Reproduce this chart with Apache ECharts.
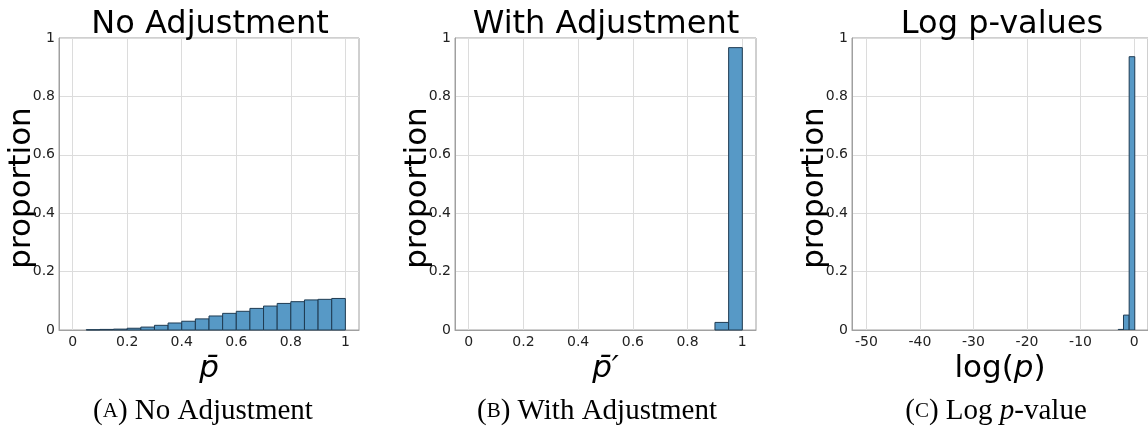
<!DOCTYPE html>
<html>
<head>
<meta charset="utf-8">
<script src="https://cdn.jsdelivr.net/npm/echarts@6/dist/echarts.min.js"></script>
<style>
  html, body { margin: 0; padding: 0; background: #fff; }
  #chart { width: 1148px; height: 429px; }
</style>
</head>
<body>
<div id="chart"></div>
<script>
// panel A: no adjustment, histogram of p-bar (bin left, bin right, proportion)
const noAdjLeft  = [0.05, 0.10, 0.15, 0.20, 0.25, 0.30, 0.35, 0.40, 0.45, 0.50, 0.55, 0.60, 0.65, 0.70, 0.75, 0.80, 0.85, 0.90, 0.95];
const noAdjRight = [0.10, 0.15, 0.20, 0.25, 0.30, 0.35, 0.40, 0.45, 0.50, 0.55, 0.60, 0.65, 0.70, 0.75, 0.80, 0.85, 0.90, 0.95, 1.00];
const noAdjProp  = [0.001, 0.002, 0.003, 0.006, 0.010, 0.016, 0.024, 0.030, 0.038, 0.048, 0.057, 0.064, 0.074, 0.082, 0.091, 0.097, 0.103, 0.105, 0.108];

// panel B: with adjustment
const adjLeft  = [0.90, 0.95];
const adjRight = [0.95, 1.00];
const adjProp  = [0.026, 0.967];

// panel C: log p-values
const logLeft  = [-2.95, -1.98, -0.92];
const logRight = [-1.98, -0.92, 0.13];
const logProp  = [0.002, 0.051, 0.936];

const unitTicks = [0, 0.2, 0.4, 0.6, 0.8, 1];
const logTicks = [-50, -40, -30, -20, -10, 0];

const panelTitles = ['No Adjustment', 'With Adjustment', 'Log p-values'];

const barFill = '#5799c6';
const barEdge = '#1f3b52';
const spine = '#a0a0a0';
const gridLine = '#dcdcdc';
const tickColor = '#222';
const sans = '"DejaVu Sans", sans-serif';
const serif = '"Liberation Serif", "DejaVu Serif", serif';

function zip(l, r, h) {
  return l.map((v, i) => [v, r[i], h[i]]);
}

function renderHist(params, api) {
  const top = api.coord([api.value(0), api.value(2)]);
  const bot = api.coord([api.value(1), 0]);
  return {
    type: 'rect',
    shape: { x: top[0], y: top[1], width: bot[0] - top[0], height: bot[1] - top[1] },
    style: { fill: barFill, stroke: barEdge, lineWidth: 1 }
  };
}

const grids = [
  { left: 59, top: 38, width: 300, height: 292 },
  { left: 455, top: 38, width: 301, height: 292 },
  { left: 852, top: 38, width: 300, height: 292 }
];

function xAxisFor(i, min, max, ticks, name) {
  return {
    type: 'value', gridIndex: i, min: min, max: max,
    name: name, nameLocation: 'middle', nameGap: 12,
    nameTextStyle: {
      color: '#000', fontFamily: sans, fontSize: 31, fontStyle: 'italic',
      rich: {
        n: { fontFamily: sans, fontSize: 31, color: '#000', fontStyle: 'normal' },
        i: { fontFamily: sans, fontSize: 31, fontStyle: 'italic', color: '#000' }
      }
    },
    axisLine: { show: true, onZero: false, lineStyle: { color: spine, width: 1 } },
    axisTick: { show: false, customValues: ticks },
    axisLabel: { customValues: ticks, color: tickColor, fontFamily: sans, fontSize: 14, margin: 5 },
    splitLine: { show: true, lineStyle: { color: gridLine, width: 1 } }
  };
}

function yAxisFor(i) {
  return {
    type: 'value', gridIndex: i, min: 0, max: 1, interval: 0.2,
    name: 'proportion', nameLocation: 'middle', nameGap: 22, nameRotate: 90,
    nameMoveOverlap: false,
    nameTextStyle: { color: '#000', fontFamily: sans, fontSize: 31, padding: [0, 8, 0, 0] },
    axisLine: { show: true, onZero: false, lineStyle: { color: spine, width: 1 } },
    axisTick: { show: false },
    axisLabel: { color: tickColor, fontFamily: sans, fontSize: 14, margin: 4 },
    splitLine: { show: true, lineStyle: { color: gridLine, width: 1 } }
  };
}

const titleCenters = [210, 606, 1002];
const captionCenters = [203, 597, 996];
const captions = [
  '{n|(}{s|A}{n|) No Adjustment}',
  '{n|(}{s|B}{n|) With Adjustment}',
  '{n|(}{s|C}{n|) Log }{i|p}{n|-value}'
];

const titles = [];
panelTitles.forEach((t, i) => {
  titles.push({
    text: t, left: titleCenters[i], top: 9, textAlign: 'center', padding: 0,
    textStyle: { fontFamily: sans, fontSize: 32, fontWeight: 'normal', color: '#000' }
  });
});
captions.forEach((c, i) => {
  titles.push({
    text: c, left: captionCenters[i], top: 397, textAlign: 'center', padding: 0,
    textStyle: {
      fontWeight: 'normal',
      rich: {
        n: { fontFamily: serif, fontSize: 29, fontWeight: 'normal', color: '#000' },
        s: { fontFamily: serif, fontSize: 21, fontWeight: 'normal', color: '#000' },
        i: { fontFamily: serif, fontSize: 29, fontWeight: 'normal', fontStyle: 'italic', color: '#000' }
      }
    }
  });
});

const chart = echarts.init(document.getElementById('chart'), null, { renderer: 'canvas' });
chart.setOption({
  animation: false,
  backgroundColor: '#fff',
  title: titles,
  grid: grids.map(g => Object.assign({ show: true, borderColor: spine, borderWidth: 1, backgroundColor: 'transparent' }, g)),
  xAxis: [
    xAxisFor(0, -0.05, 1.05, unitTicks, 'p\u0304'),
    xAxisFor(1, -0.05, 1.05, unitTicks, 'p\u0304\u2032'),
    xAxisFor(2, -52.7, 2.6, logTicks, '{n|log(}{i|p}{n|)}')
  ],
  yAxis: [yAxisFor(0), yAxisFor(1), yAxisFor(2)],
  series: [
    { type: 'custom', xAxisIndex: 0, yAxisIndex: 0, renderItem: renderHist, encode: { x: [0, 1], y: 2 }, data: zip(noAdjLeft, noAdjRight, noAdjProp) },
    { type: 'custom', xAxisIndex: 1, yAxisIndex: 1, renderItem: renderHist, encode: { x: [0, 1], y: 2 }, data: zip(adjLeft, adjRight, adjProp) },
    { type: 'custom', xAxisIndex: 2, yAxisIndex: 2, renderItem: renderHist, encode: { x: [0, 1], y: 2 }, clip: true, data: zip(logLeft, logRight, logProp) }
  ]
});
</script>
</body>
</html>
